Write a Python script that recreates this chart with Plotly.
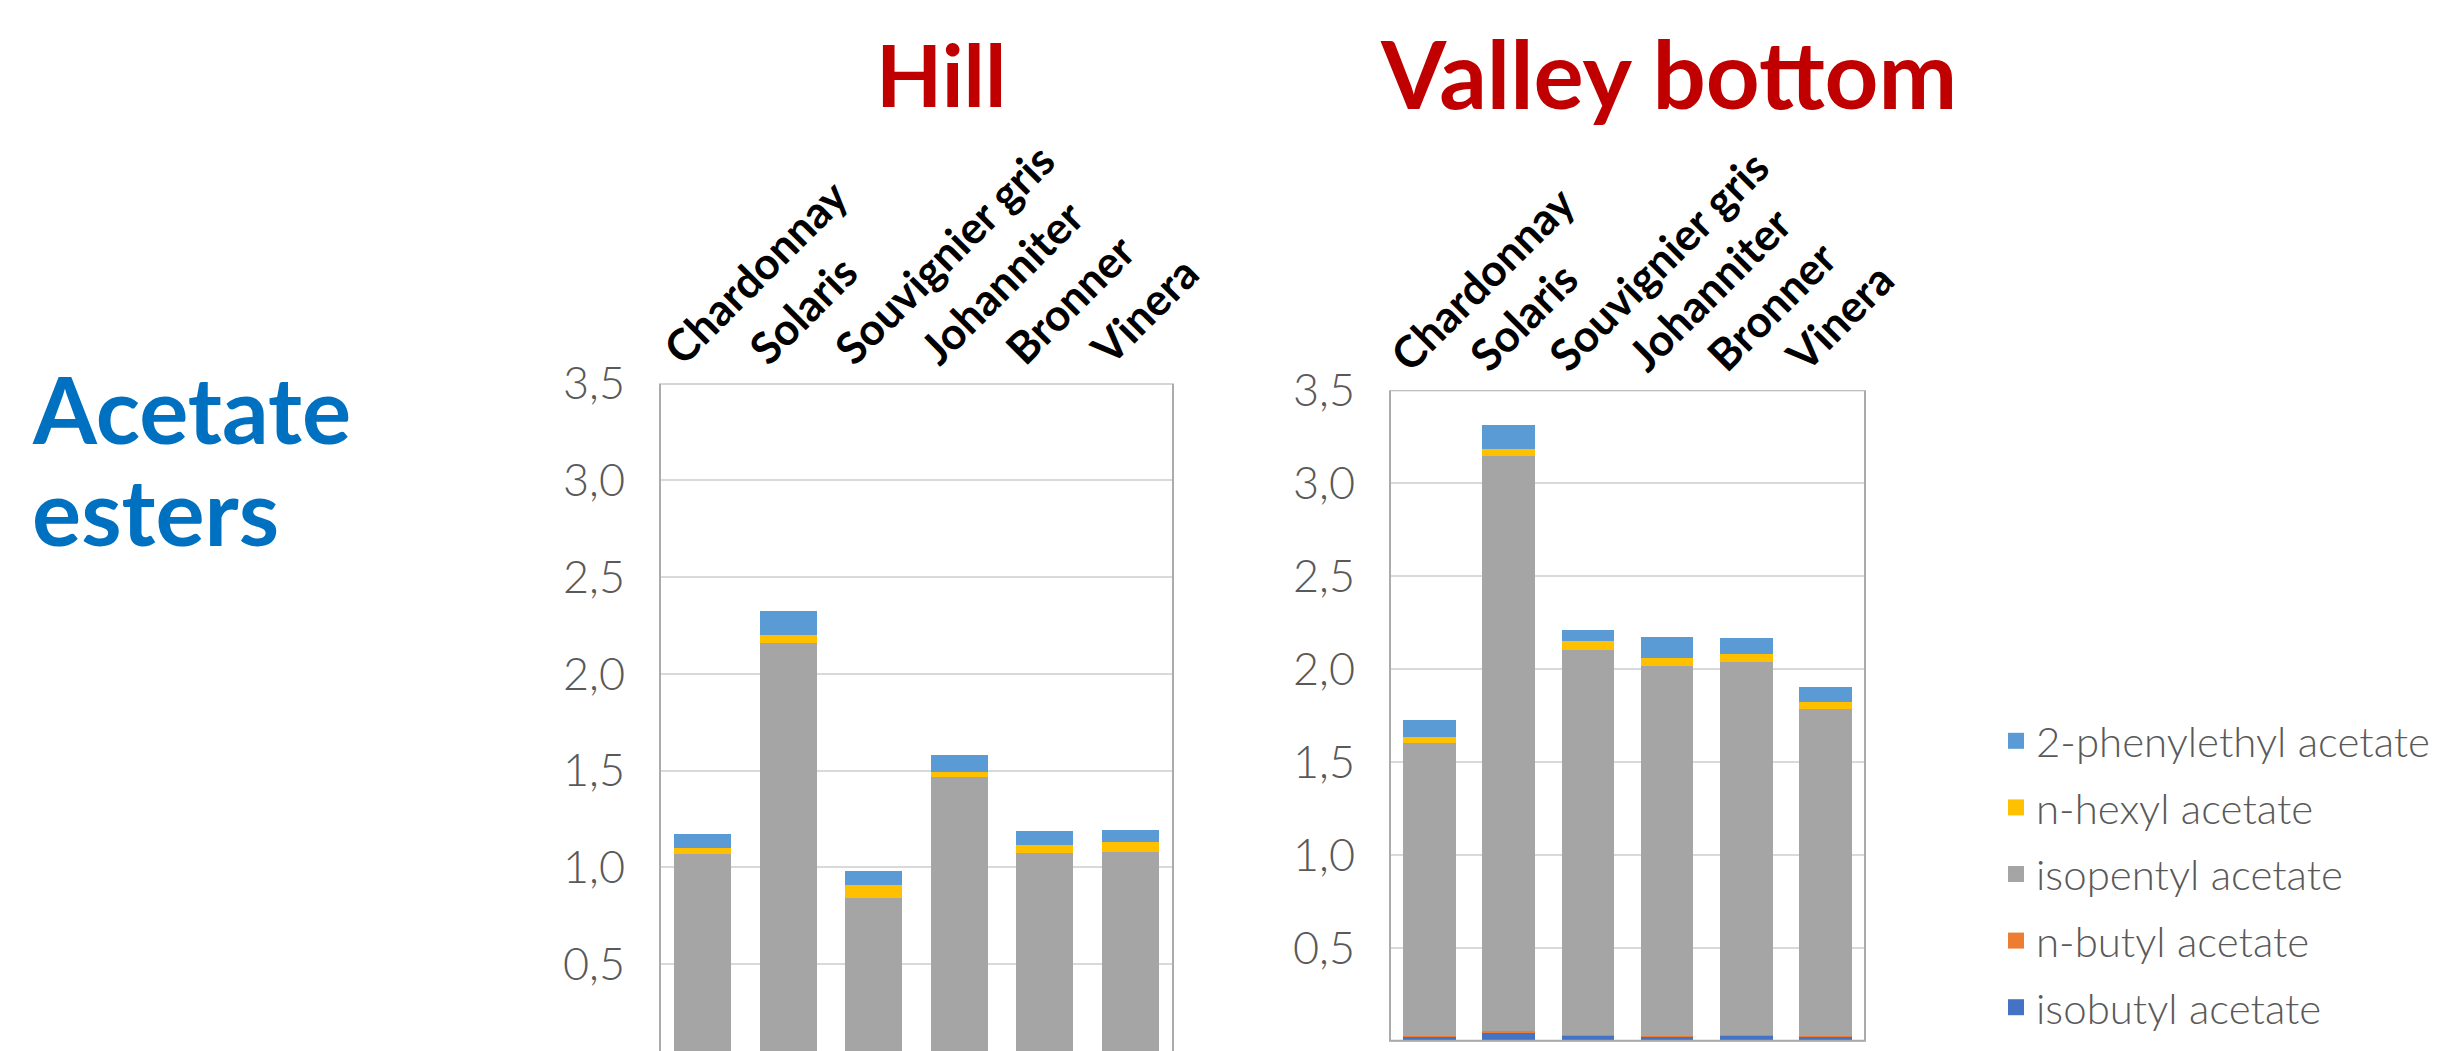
import plotly.graph_objects as go

W, H = 2450, 1051

categories = ["Chardonnay", "Solaris", "Souvignier gris", "Johanniter", "Bronner", "Vinera"]
series_names = ["isobutyl acetate", "n-butyl acetate", "isopentyl acetate",
                "n-hexyl acetate", "2-phenylethyl acetate"]
series_colors = ["#4472C4", "#ED7D31", "#A5A5A5", "#FFC000", "#5B9BD5"]

hill_isobutyl = [0.020, 0.028, 0.020, 0.020, 0.020, 0.020]
hill_nbutyl = [0.003, 0.004, 0.003, 0.003, 0.003, 0.003]
hill_isopentyl = [1.045, 2.129, 0.819, 1.443, 1.050, 1.059]
hill_hexyl = [0.030, 0.039, 0.067, 0.029, 0.044, 0.051]
hill_phenyl = [0.074, 0.127, 0.071, 0.086, 0.069, 0.062]

valley_isobutyl = [0.024, 0.041, 0.029, 0.022, 0.029, 0.022]
valley_nbutyl = [0.003, 0.009, 0.002, 0.004, 0.002, 0.003]
valley_isopentyl = [1.577, 3.098, 2.073, 1.992, 2.008, 1.760]
valley_hexyl = [0.029, 0.034, 0.044, 0.043, 0.044, 0.040]
valley_phenyl = [0.094, 0.130, 0.060, 0.113, 0.082, 0.080]

y_tick_vals = [0.0, 0.5, 1.0, 1.5, 2.0, 2.5, 3.0, 3.5]

hill = [hill_isobutyl, hill_nbutyl, hill_isopentyl, hill_hexyl, hill_phenyl]
valley = [valley_isobutyl, valley_nbutyl, valley_isopentyl, valley_hexyl, valley_phenyl]

FONT = "Lato"
GRID = "#D9D9D9"
FRAME = "#ABABAB"
TXT = "#595959"

fig = go.Figure()

for vals, xa, ya in [(hill, "x", "y"), (valley, "x2", "y2")]:
    for name, color, v in zip(series_names, series_colors, vals):
        fig.add_trace(go.Bar(x=categories, y=v, name=name, marker=dict(color=color, line=dict(width=0)),
                             xaxis=xa, yaxis=ya, showlegend=False))

# legend entries (top to bottom)
for name, color in reversed(list(zip(series_names, series_colors))):
    fig.add_trace(go.Scatter(x=[None], y=[None], mode="markers", name=name,
                             marker=dict(symbol="square", size=21, color=color),
                             legendgroup=name, showlegend=True, xaxis="x", yaxis="y"))

def px_x(p):
    return p / W

def px_y(p):
    return 1 - p / H

# Hill plot: x 660-1173, top 383.5, zero at 1061
hill_top, hill_zero = 383.5, 1061.0
hill_bottom_val = 3.5 * (hill_zero - H) / (hill_zero - hill_top)
# Valley plot: x 1390-1865, top 390.2, zero at 1040.7
val_top, val_zero = 390.2, 1040.7
val_bottom_val = -3.5 * (H - val_zero) / (val_zero - val_top)

xcommon = dict(type="category", side="top", tickangle=-45, showgrid=False, showline=False,
               ticks="", ticklabelshift=-35,
               tickfont=dict(family=FONT, size=44, color="#000000", weight="bold"),
               fixedrange=True, automargin=False)
ycommon = dict(tickvals=y_tick_vals, tickformat=".1f", showgrid=True, gridcolor=GRID, gridwidth=2,
               zeroline=False, showline=False, ticks="", ticklabelstandoff=34, automargin=False,
               tickfont=dict(family=FONT, size=45, color=TXT, weight=300))

fig.update_layout(
    width=W, height=H,
    margin=dict(l=0, r=0, t=0, b=0, autoexpand=False),
    paper_bgcolor="white", plot_bgcolor="white",
    separators=", ",
    barmode="stack", bargap=0.333,
    xaxis=dict(domain=[px_x(660), px_x(1173)], anchor="y", **xcommon),
    yaxis=dict(domain=[0, px_y(hill_top)], range=[hill_bottom_val, 3.5], anchor="x", **ycommon),
    xaxis2=dict(domain=[px_x(1390), px_x(1865)], anchor="y2", **xcommon),
    yaxis2=dict(domain=[0, px_y(val_top)], range=[val_bottom_val, 3.5], anchor="x2", **ycommon),
    legend=dict(x=px_x(1996), y=px_y(707), xanchor="left", yanchor="top",
                traceorder="grouped", tracegroupgap=9,
                font=dict(family=FONT, size=42, color=TXT, weight=300),
                bgcolor="rgba(0,0,0,0)", itemclick=False, itemdoubleclick=False),
    showlegend=True,
)

# plot frames
for xr, yr in [("x domain", "y"), ("x2 domain", "y2")]:
    fig.add_shape(type="rect", xref=xr, yref=yr, x0=0, x1=1, y0=0, y1=3.5,
                  line=dict(color=FRAME, width=2), fillcolor="rgba(0,0,0,0)", layer="above")

fig.add_annotation(text="Hill", x=px_x(941), y=px_y(73), xref="paper", yref="paper",
                   xanchor="center", yanchor="middle", showarrow=False,
                   font=dict(family=FONT, size=86, color="#C00000", weight="bold"))
fig.add_annotation(text="Valley bottom", x=px_x(1669), y=px_y(72), xref="paper", yref="paper",
                   xanchor="center", yanchor="middle", showarrow=False,
                   font=dict(family=FONT, size=94, color="#C00000", weight="bold"))
fig.add_annotation(text="Acetate", x=px_x(30), y=px_y(408), xref="paper", yref="paper",
                   xanchor="left", yanchor="middle", showarrow=False,
                   font=dict(family=FONT, size=92, color="#0070C0", weight="bold"))
fig.add_annotation(text="esters", x=px_x(30), y=px_y(511), xref="paper", yref="paper",
                   xanchor="left", yanchor="middle", showarrow=False,
                   font=dict(family=FONT, size=92, color="#0070C0", weight="bold"))

fig.write_html("out.html")
